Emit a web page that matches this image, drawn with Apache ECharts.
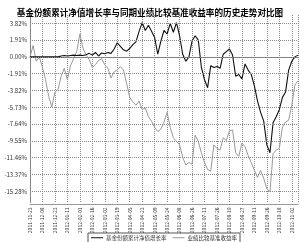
<!DOCTYPE html>
<html>
<head>
<meta charset="utf-8">
<script src="https://cdn.jsdelivr.net/npm/echarts@6/dist/echarts.min.js"></script>
<style>
html,body{margin:0;padding:0;background:#fff;}
#chart{width:300px;height:242px;}
</style>
</head>
<body>
<div id="chart"></div>
<script>
// tick labels on x axis (one every 4 points)
let tickLabels = ['2011-11-23','2011-12-08','2011-12-23','2012-01-11','2012-02-01','2012-02-16',
  '2012-03-02','2012-03-19','2012-04-05','2012-04-23','2012-05-09','2012-05-24','2012-06-08',
  '2012-06-26','2012-07-11','2012-07-26','2012-08-10','2012-08-27','2012-09-11','2012-09-26',
  '2012-10-18','2012-11-02'];
// y gridline values (%)
let yTicks = [3.82, 1.91, 0.00, -1.91, -3.82, -5.73, -7.64, -9.55, -11.46, -13.37, -15.28];

// 基金份额累计净值增长率
let fundVals = [0,0,0,0,0,0,0,0,0,0,
  0.1,0.15,0.1,0.15,0.2,0.15,0.2,0.15,0.25,0.4,
  0.2,0.5,0.1,0.45,0.35,0.5,0.4,0.9,1.6,1.2,
  0.8,0.65,0.95,1.4,1.7,2.9,3.9,3.0,3.6,2.9,
  2.2,0.3,1.8,3.0,2.6,3.8,2.8,3.9,2.4,0.3,
  -0.5,0.0,1.8,2.4,1.9,-1.2,-2.6,-3.5,-1.0,-1.2,
  -1.1,-1.3,0.3,0.6,0.9,0.2,-2.2,-2.0,-2.5,-0.8,
  -1.5,-2.0,-3.3,-5.0,-6.3,-7.3,-10.0,-10.9,-7.5,-6.8,
  -6.0,-4.6,-4.0,-1.5,-0.5,0.0,0.2];
// 业绩比较基准收益率
let benchVals = [0,1.3,-0.5,0.0,-1.2,-2.6,-4.5,-5.7,-4.0,-3.7,
  -2.2,-1.3,-2.6,-1.0,-0.2,0.6,2.6,1.0,0.2,-0.3,
  -1.2,-0.9,-0.4,-0.2,-0.9,-1.3,-2.4,-1.7,-1.5,-1.1,
  -1.5,-3.0,-4.6,-5.1,-5.5,-5.0,-6.0,-5.8,-6.8,-7.3,
  -8.0,-8.5,-8.2,-7.4,-6.3,-8.0,-9.2,-9.6,-10.0,-11.4,
  -12.3,-12.0,-12.2,-8.9,-9.6,-10.9,-12.0,-12.8,-13.0,-10.0,
  -10.4,-10.6,-9.2,-9.5,-8.4,-8.3,-10.9,-11.3,-9.8,-10.2,
  -11.2,-12.0,-12.9,-13.7,-12.9,-13.8,-15.0,-15.3,-11.0,-10.6,
  -10.4,-8.0,-7.4,-7.2,-5.5,-3.2,-2.7];

let names = ['基金份额累计净值增长率', '业绩比较基准收益率'];

let chart = echarts.init(document.getElementById('chart'));
let lastIdx = fundVals.length - 1;

let option = {
  animation: false,
  textStyle: { fontFamily: 'Noto Sans CJK SC, sans-serif' },
  title: {
    text: '基金份额累计净值增长率与同期业绩比较基准收益率的历史走势对比图',
    left: 'center',
    top: 3,
    textStyle: { fontSize: 8.6, fontWeight: 'bold', color: '#000', fontFamily: 'Noto Sans CJK SC' }
  },
  legend: {
    data: names,
    left: 88,
    top: 233,
    icon: 'rect',
    itemWidth: 12,
    itemHeight: 1,
    itemGap: 6,
    padding: [2, 3],
    borderColor: '#555',
    borderWidth: 1,
    textStyle: { fontSize: 5.5, color: '#333', padding: [0, 0, 0, -2] }
  },
  grid: { left: 30, right: 2, top: 15, bottom: 39.5 },
  xAxis: [{
    type: 'value',
    min: 0,
    max: lastIdx,
    interval: 4,
    axisLine: { show: true, lineStyle: { color: '#777', width: 1 } },
    axisTick: { show: false },
    splitLine: { show: true, lineStyle: { type: 'dotted', color: '#888' } },
    axisLabel: {
      rotate: 90,
      fontSize: 5,
      color: '#333',
      margin: 5,
      showMaxLabel: false,
      formatter: function (v) { return tickLabels[v / 4] || ''; }
    }
  }, {
    type: 'value',
    min: 0,
    max: lastIdx,
    position: 'bottom',
    offset: 2,
    axisLine: { show: true, lineStyle: { color: '#999', width: 1 } },
    axisTick: { show: false },
    axisLabel: { show: false },
    splitLine: { show: false }
  }],
  yAxis: {
    type: 'value',
    min: -16.55,
    max: 4.76,
    axisLine: { show: true, lineStyle: { color: '#888' } },
    axisTick: { show: false },
    axisLabel: { show: false },
    splitLine: { show: false }
  },
  series: [
    {
      name: 'grid',
      type: 'line',
      data: [],
      z: 1,
      silent: true,
      markLine: {
        silent: true,
        symbol: 'none',
        animation: false,
        lineStyle: { type: 'dotted', color: '#888', width: 1 },
        label: {
          position: 'start',
          distance: 3,
          fontSize: 6,
          color: '#333',
          formatter: function (p) { return p.value.toFixed(2) + '%'; }
        },
        data: yTicks.map(function (v) { return { yAxis: v }; })
      }
    },
    {
      name: names[1],
      type: 'line',
      data: benchVals.map(function (v, i) { return [i, v]; }),
      showSymbol: false,
      z: 2,
      lineStyle: { color: '#999', width: 1 },
      itemStyle: { color: '#999' }
    },
    {
      name: names[0],
      type: 'line',
      data: fundVals.map(function (v, i) { return [i, v]; }),
      showSymbol: false,
      z: 3,
      lineStyle: { color: '#111', width: 1.1 },
      itemStyle: { color: '#111' }
    }
  ]
};
chart.setOption(option);
</script>
</body>
</html>
